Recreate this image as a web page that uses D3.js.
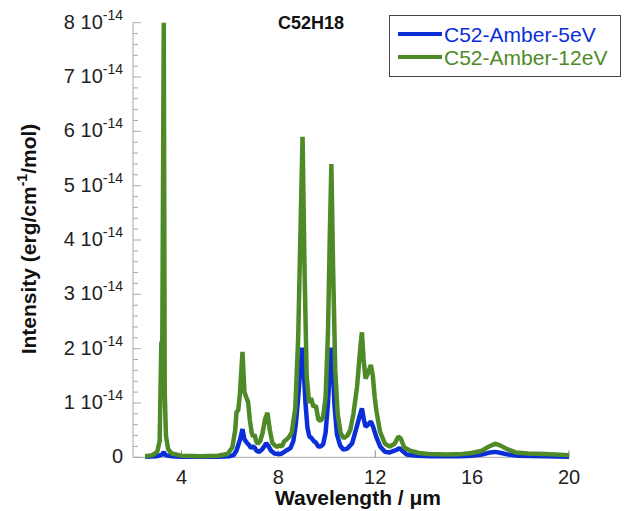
<!DOCTYPE html>
<html>
<head>
<meta charset="utf-8">
<script src="https://cdn.jsdelivr.net/npm/d3@7"></script>
<style>
  body { margin: 0; background: #fff; }
  svg { display: block; font-family: "Liberation Sans", Arial, sans-serif; }
</style>
</head>
<body>
<svg id="chart" width="625" height="511"></svg>
<script>
// ---- data (intensity in units of 1e-14 erg/cm^-1/mol) ----
const title = "C52H18";
const seriesNames = ["C52-Amber-5eV", "C52-Amber-12eV"];
const xTicks = [4, 8, 12, 16, 20];
const yTicks = [0, 1, 2, 3, 4, 5, 6, 7, 8];

const wl5 = [2.5, 3.0, 3.2, 3.27, 3.33, 3.6, 4.0, 5.5, 6.0, 6.15, 6.27, 6.4, 6.45, 6.52, 6.6, 6.7, 6.8, 6.87, 6.95, 7.02,
  7.1, 7.2, 7.32, 7.42, 7.5, 7.6, 7.7, 7.84, 8.0, 8.1, 8.25, 8.35, 8.5, 8.62, 8.72, 8.82, 8.92, 8.98, 9.05, 9.12,
  9.2, 9.28, 9.36, 9.46, 9.55, 9.65, 9.75, 9.85, 9.95, 10.05, 10.13, 10.19, 10.25, 10.32, 10.42, 10.55, 10.68, 10.85, 11.05, 11.2,
  11.35, 11.45, 11.52, 11.6, 11.7, 11.82, 11.92, 12.04, 12.2, 12.4, 12.6, 12.85, 13.0, 13.12, 13.3, 13.7, 14.3, 15.5, 16.0, 16.4,
  16.75, 16.95, 17.2, 17.5, 17.9, 19.0, 20.0];
const int5 = [0.01, 0.02, 0.05, 0.1, 0.04, 0.02, 0.01, 0.01, 0.02, 0.04, 0.12, 0.3, 0.38, 0.52, 0.33, 0.27, 0.22, 0.17, 0.2, 0.18,
  0.12, 0.1, 0.14, 0.2, 0.26, 0.2, 0.12, 0.07, 0.06, 0.06, 0.1, 0.13, 0.17, 0.3, 0.6, 1.1, 1.7, 2.02, 1.6, 1.0,
  0.55, 0.38, 0.36, 0.3, 0.27, 0.2, 0.2, 0.24, 0.45, 1.0, 1.7, 2.02, 1.6, 0.95, 0.42, 0.22, 0.14, 0.16, 0.26, 0.5,
  0.75, 0.9, 0.72, 0.56, 0.6, 0.66, 0.55, 0.38, 0.2, 0.1, 0.09, 0.13, 0.17, 0.12, 0.05, 0.03, 0.02, 0.02, 0.03, 0.05,
  0.09, 0.1, 0.08, 0.05, 0.03, 0.02, 0.01];

const wl12 = [2.5, 2.8, 3.0, 3.1, 3.17, 3.21, 3.27, 3.31, 3.36, 3.45, 3.6, 4.0, 4.8, 5.5, 5.9, 6.1, 6.22, 6.27, 6.35, 6.42,
  6.52, 6.6, 6.68, 6.75, 6.82, 6.9, 6.96, 7.02, 7.08, 7.15, 7.25, 7.35, 7.45, 7.55, 7.65, 7.75, 7.85, 7.95, 8.05, 8.15,
  8.25, 8.35, 8.45, 8.55, 8.7, 8.82, 8.93, 9.0, 9.08, 9.17, 9.27, 9.35, 9.45, 9.55, 9.65, 9.75, 9.85, 9.95, 10.05, 10.13,
  10.19, 10.26, 10.35, 10.45, 10.57, 10.7, 10.85, 10.97, 11.1, 11.25, 11.38, 11.45, 11.52, 11.6, 11.7, 11.82, 11.9, 11.98, 12.05, 12.2,
  12.4, 12.6, 12.8, 12.95, 13.05, 13.2, 13.45, 13.8, 14.2, 15.0, 15.6, 16.0, 16.4, 16.7, 16.95, 17.2, 17.45, 17.8, 18.3, 19.0, 20.0];
const int12 = [0.02, 0.04, 0.1, 0.3, 2.1, 2.15, 8.0, 1.2, 0.4, 0.15, 0.07, 0.03, 0.02, 0.03, 0.06, 0.18, 0.5, 0.82, 0.88, 1.2,
  1.94, 1.2, 1.1, 1.02, 0.7, 0.45, 0.38, 0.42, 0.3, 0.25, 0.3, 0.45, 0.7, 0.82, 0.5, 0.27, 0.22, 0.19, 0.22, 0.2,
  0.3, 0.33, 0.38, 0.45, 0.9, 2.2, 4.5, 5.9, 3.5, 1.5, 1.0, 1.09, 0.93, 0.95, 0.7, 0.67, 0.75, 1.1, 2.3, 4.2,
  5.4, 3.5, 1.6, 0.8, 0.45, 0.35, 0.4, 0.5, 0.8, 1.3, 2.0, 2.3, 1.8, 1.45, 1.55, 1.7, 1.5, 1.1, 0.85, 0.47,
  0.25, 0.2, 0.25, 0.38, 0.35, 0.18, 0.12, 0.08, 0.06, 0.05, 0.06, 0.08, 0.12, 0.2, 0.25, 0.21, 0.15, 0.09, 0.07, 0.06, 0.04];

const colors = ["#0a2fd8", "#4f8a28"];

// ---- layout ----
const svg = d3.select("#chart");
const x = d3.scaleLinear().domain([2, 20]).range([133, 569]);
const y = d3.scaleLinear().domain([0, 8]).range([457.3, 22.7]);
const axisColor = "#a8a8a8";

// axes lines
svg.append("line").attr("x1", x(2)).attr("x2", x(2)).attr("y1", y(0)).attr("y2", y(8))
  .attr("stroke", axisColor).attr("stroke-width", 1);
svg.append("line").attr("x1", x(2)).attr("x2", x(20)).attr("y1", y(0)).attr("y2", y(0))
  .attr("stroke", axisColor).attr("stroke-width", 1);

// y ticks (major + minor, inward)
const yMinor = d3.range(0, 8.0001, 0.2);
svg.append("g").selectAll("line").data(yMinor).join("line")
  .attr("x1", x(2)).attr("x2", d => x(2) + (Math.abs(d - Math.round(d)) < 1e-6 ? 8 : 5))
  .attr("y1", d => y(d)).attr("y2", d => y(d))
  .attr("stroke", axisColor).attr("stroke-width", 1);

// x ticks (inward)
svg.append("g").selectAll("line").data(xTicks).join("line")
  .attr("x1", d => x(d)).attr("x2", d => x(d))
  .attr("y1", y(0)).attr("y2", y(0) - 7)
  .attr("stroke", "#888").attr("stroke-width", 1);

// y tick labels
const yl = svg.append("g").selectAll("text").data(yTicks).join("text")
  .attr("x", 123).attr("y", d => y(d) + 6)
  .attr("text-anchor", "end").attr("font-size", 20).attr("fill", "#222");
yl.each(function(d) {
  const t = d3.select(this);
  if (d === 0) { t.text("0"); return; }
  t.append("tspan").text(d + " 10");
  t.append("tspan").attr("font-size", 14).attr("dy", -9).text("-14");
});

// x tick labels
svg.append("g").selectAll("text").data(xTicks).join("text")
  .attr("x", d => x(d)).attr("y", 484).attr("text-anchor", "middle")
  .attr("font-size", 20).attr("fill", "#222").text(d => d);

// axis titles
svg.append("text").attr("x", 358).attr("y", 505).attr("text-anchor", "middle")
  .attr("font-size", 21).attr("font-weight", "bold").attr("fill", "#111")
  .text("Wavelength / \u03bcm");

const ylab = svg.append("text").attr("transform", "translate(36,239) rotate(-90)")
  .attr("text-anchor", "middle").attr("font-size", 21).attr("font-weight", "bold").attr("fill", "#111");
ylab.append("tspan").text("Intensity (erg/cm");
ylab.append("tspan").attr("font-size", 14).attr("dy", -9).text("-1");
ylab.append("tspan").attr("dy", 9).text("/mol)");

// title
svg.append("text").attr("x", 311).attr("y", 29).attr("text-anchor", "middle")
  .attr("font-size", 18).attr("font-weight", "bold").attr("fill", "#111").text(title);

// lines
const line = d3.line().x(d => x(d[0])).y(d => y(d[1]));
const data5 = wl5.map((w, i) => [w, int5[i]]);
const data12 = wl12.map((w, i) => [w, int12[i]]);
[data5, data12].forEach((ds, i) => {
  svg.append("path").datum(ds).attr("d", line)
    .attr("fill", "none").attr("stroke", colors[i]).attr("stroke-width", 4.5)
    .attr("stroke-linejoin", "bevel");
});

// legend
const lg = svg.append("g");
lg.append("rect").attr("x", 389.5).attr("y", 15.5).attr("width", 231).attr("height", 61)
  .attr("fill", "#fff").attr("stroke", "#444").attr("stroke-width", 1);
seriesNames.forEach((n, i) => {
  const yy = 34 + i * 23;
  lg.append("line").attr("x1", 398).attr("x2", 442).attr("y1", yy).attr("y2", yy)
    .attr("stroke", colors[i]).attr("stroke-width", 4);
  lg.append("text").attr("x", 444).attr("y", yy + 7.5).attr("font-size", 21)
    .attr("fill", colors[i]).text(n);
});
</script>
</body>
</html>
